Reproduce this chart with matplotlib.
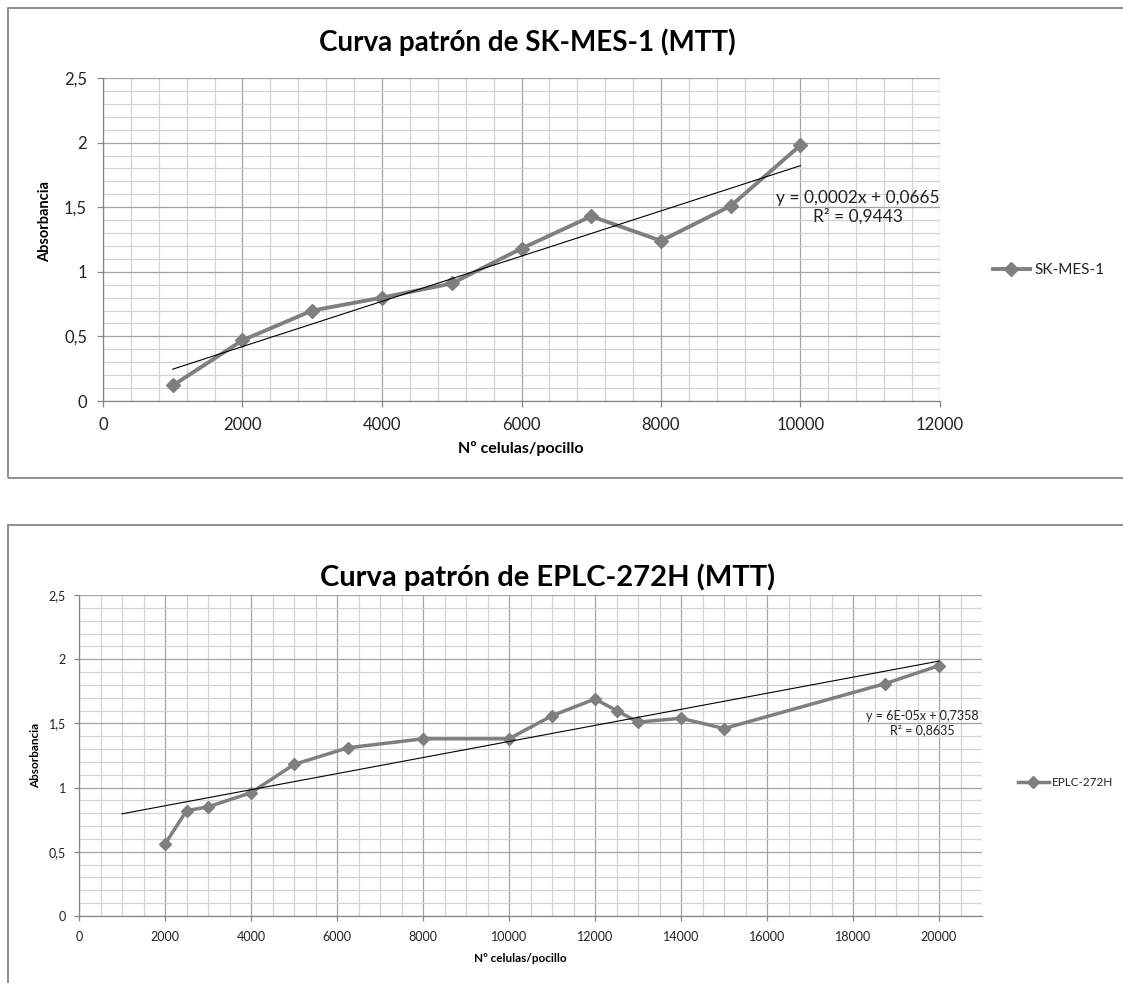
import numpy as np
import matplotlib
matplotlib.use('Agg')
import matplotlib.pyplot as plt
from matplotlib.patches import Rectangle
from matplotlib.ticker import MultipleLocator

plt.rcParams['font.family'] = ['Lato', 'DejaVu Sans']

W, H = 1123, 983

# ---------------- data ----------------
sk_title = "Curva patrón de SK-MES-1 (MTT)"
sk_name = "SK-MES-1"
sk_cells = [1000, 2000, 3000, 4000, 5000, 6000, 7000, 8000, 9000, 10000]
sk_abs = [0.12, 0.47, 0.70, 0.80, 0.91, 1.18, 1.43, 1.24, 1.51, 1.98]
sk_eq = "y = 0,0002x + 0,0665\nR² = 0,9443"
sk_xticks = [0, 2000, 4000, 6000, 8000, 10000, 12000]

ep_title = "Curva patrón de EPLC-272H (MTT)"
ep_name = "EPLC-272H"
ep_cells = [2000, 2500, 3000, 4000, 5000, 6250, 8000, 10000, 11000, 12000,
            12500, 13000, 14000, 15000, 18750, 20000]
ep_abs = [0.56, 0.82, 0.85, 0.96, 1.18, 1.31, 1.38, 1.38, 1.56, 1.69,
          1.60, 1.51, 1.54, 1.46, 1.81, 1.95]
ep_eq = "y = 6E-05x + 0,7358\nR² = 0,8635"
ep_xticks = [0, 2000, 4000, 6000, 8000, 10000, 12000, 14000, 16000, 18000, 20000]

yticks = [0, 0.5, 1, 1.5, 2, 2.5]
ytick_labels = ['0', '0,5', '1', '1,5', '2', '2,5']
xlabel = "Nº celulas/pocillo"
ylabel = "Absorbancia"
trend_start = 1000

LINE_C = '#7f7f7f'
FRAME_C = '#868686'
MAJ_C = '#a3a3a3'
MIN_C = '#d3d3d3'

fig = plt.figure(figsize=(W / 100, H / 100), dpi=100)


def px_axes(l, t, r, b):
    return fig.add_axes([l / W, 1 - b / H, (r - l) / W, (b - t) / H])


def fy(y):
    return 1 - y / H


def fx(x):
    return x / W


# frames
fig.patches.append(Rectangle((fx(8), fy(478)), 1.2, (478 - 8) / H, transform=fig.transFigure,
                             fill=False, edgecolor=FRAME_C, linewidth=1.3))
fig.patches.append(Rectangle((fx(8), fy(1100)), 1.2, (1100 - 525) / H, transform=fig.transFigure,
                             fill=False, edgecolor=FRAME_C, linewidth=1.3))


def setup(ax, xmax, xticks, xminor, fs, tlen, ypad, xpad):
    ax.set_xlim(0, xmax)
    ax.set_ylim(0, 2.5)
    ax.set_xticks(xticks)
    ax.set_xticklabels([str(v) for v in xticks])
    ax.set_yticks(yticks)
    ax.set_yticklabels(ytick_labels)
    ax.xaxis.set_minor_locator(MultipleLocator(xminor))
    ax.yaxis.set_minor_locator(MultipleLocator(0.1))
    ax.grid(True, which='minor', color=MIN_C, linewidth=0.9, zorder=0)
    ax.grid(True, which='major', color=MAJ_C, linewidth=0.9, zorder=0)
    ax.set_axisbelow(True)
    for s in ['top', 'right']:
        ax.spines[s].set_visible(False)
    for s in ['left', 'bottom']:
        ax.spines[s].set_color(FRAME_C)
        ax.spines[s].set_linewidth(0.9)
    ax.tick_params(which='major', direction='out', length=tlen, width=0.9, color=FRAME_C,
                   labelsize=fs, labelcolor='#222222')
    ax.tick_params(axis='y', pad=ypad)
    ax.tick_params(axis='x', pad=xpad)
    ax.tick_params(which='minor', length=0)


def draw(ax, xs, ys, name, lw, ms):
    ax.plot(xs, ys, color=LINE_C, linewidth=lw, marker='D', markersize=ms,
            markerfacecolor=LINE_C, markeredgecolor=LINE_C, label=name, zorder=3)
    k, c = np.polyfit(xs, ys, 1)
    tx = np.array([trend_start, max(xs)])
    ax.plot(tx, k * tx + c, color='black', linewidth=0.8, zorder=4)


# ---------- top chart ----------
ax1 = px_axes(103, 78, 940, 401)
setup(ax1, 12000, sk_xticks, 400, 12, 4.5, 7, 7)
draw(ax1, sk_cells, sk_abs, sk_name, 2.8, 7.5)
ax1.text(fx(858), fy(207), sk_eq, transform=fig.transFigure, ha='center', va='center',
         fontsize=12.5, color='#222222', linespacing=1.15, zorder=5)
fig.text(fx(527), fy(42), sk_title, ha='center', va='center', fontsize=20, fontweight='bold')
fig.text(fx(45), fy(222), ylabel, ha='center', va='center', rotation=90, fontsize=10.5,
         fontweight='bold')
fig.text(fx(521), fy(448), xlabel, ha='center', va='center', fontsize=11.5, fontweight='bold')
ax1.legend(loc='center left', bbox_to_anchor=(fx(993), fy(270)), bbox_transform=fig.transFigure,
           frameon=False, fontsize=11, handlelength=2.4, handletextpad=0.3, borderpad=0,
           borderaxespad=0, labelcolor='#222222')

# ---------- bottom chart ----------
ax2 = px_axes(79, 595, 982, 916)
setup(ax2, 21000, ep_xticks, 500, 9, 3.5, 6, 7)
draw(ax2, ep_cells, ep_abs, ep_name, 2.5, 6.5)
ax2.text(fx(922), fy(723), ep_eq, transform=fig.transFigure, ha='center', va='center',
         fontsize=9, color='#222222', linespacing=1.25, zorder=5)
fig.text(fx(548), fy(577), ep_title, ha='center', va='center', fontsize=21, fontweight='bold')
fig.text(fx(36), fy(755), ylabel, ha='center', va='center', rotation=90, fontsize=8.5,
         fontweight='bold')
fig.text(fx(520), fy(958), xlabel, ha='center', va='center', fontsize=8.5, fontweight='bold')
ax2.legend(loc='center left', bbox_to_anchor=(fx(1018), fy(783)), bbox_transform=fig.transFigure,
           frameon=False, fontsize=8.5, handlelength=2.6, handletextpad=0.3, borderpad=0,
           borderaxespad=0, labelcolor='#222222')

fig.savefig('out.png', dpi=100)
